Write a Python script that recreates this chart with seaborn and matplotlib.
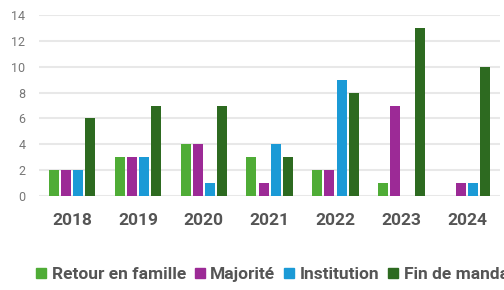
import pandas as pd
import matplotlib.pyplot as plt
import seaborn as sns
from matplotlib.lines import Line2D

# données
annees = ['2018', '2019', '2020', '2021', '2022', '2023', '2024']
series = ['Retour en famille', 'Majorité', 'Institution', 'Fin de mandat']
retour_famille = [2, 3, 4, 3, 2, 1, 0]
majorite = [2, 3, 4, 1, 2, 7, 1]
institution = [2, 3, 1, 4, 9, 0, 1]
fin_mandat = [6, 7, 7, 3, 8, 13, 10]
couleurs = ['#4fac36', '#9c2a96', '#1b9ad6', '#2d6a20']

valeurs = [retour_famille, majorite, institution, fin_mandat]
rows = []
for nom, vals in zip(series, valeurs):
    for a, v in zip(annees, vals):
        rows.append({'Année': a, 'Motif': nom, 'Nombre': v})
df = pd.DataFrame(rows)

sns.set_style('white')
plt.rcParams['font.family'] = ['Roboto', 'DejaVu Sans']

fig = plt.figure(figsize=(5.04, 2.9), dpi=100)
ax = fig.add_axes([0.078, 0.324, 0.914, 0.624])

sns.barplot(data=df, x='Année', y='Nombre', hue='Motif', order=annees,
            hue_order=series, palette=couleurs, width=0.74, gap=0.18,
            saturation=1, linewidth=0, legend=False, ax=ax, zorder=3)

ax.set_ylim(0, 14)
ax.set_xlim(-0.5, 6.5)
ax.set_yticks(range(0, 15, 2))
ax.yaxis.grid(True, color='#e8e8e8', linewidth=1.5, zorder=0)
ax.set_axisbelow(True)
for s in ax.spines.values():
    s.set_visible(False)
ax.set_xlabel('')
ax.set_ylabel('')
ax.tick_params(axis='y', labelsize=9, colors='#777777', length=0, pad=10)
ax.tick_params(axis='x', labelsize=12.5, colors='#555555', length=0, pad=12)
for t in ax.get_xticklabels():
    t.set_fontweight('bold')

# légende en bas (coupée à droite comme l'original)
handles = [Line2D([], [], marker='s', linestyle='', markersize=7.5, color=c) for c in couleurs]
leg = fig.legend(handles, series, loc='center left', bbox_to_anchor=(0.058, 0.055),
                 ncol=4, frameon=False, handlelength=0.6, handletextpad=0.3,
                 columnspacing=0.5, borderaxespad=0, prop={'size': 12.5, 'weight': 'bold'})
for t in leg.get_texts():
    t.set_color('#555555')

fig.savefig('out.png', dpi=100)
